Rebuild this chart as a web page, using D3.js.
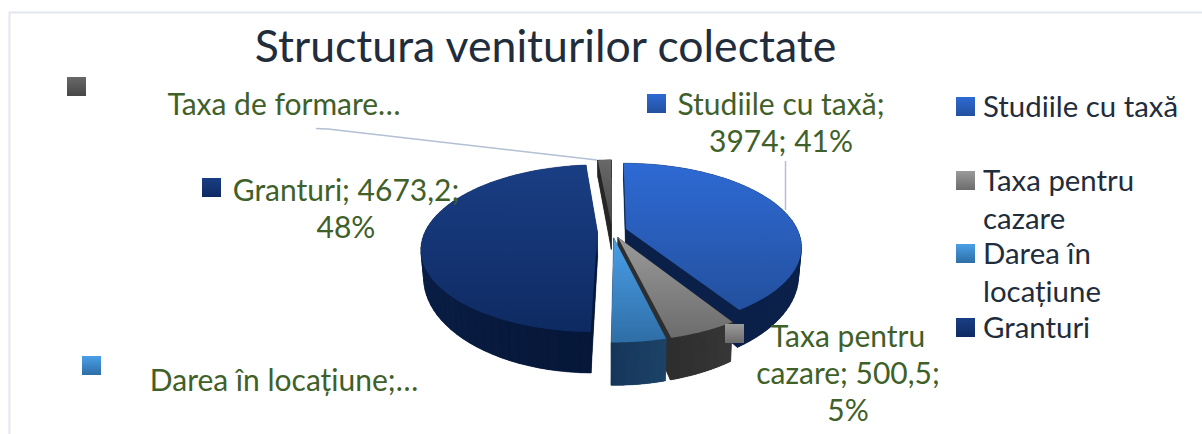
<!DOCTYPE html>
<html>
<head>
<meta charset="utf-8">
<script src="https://cdnjs.cloudflare.com/ajax/libs/d3/7.8.5/d3.min.js"></script>
<style>
    html, body { margin: 0; padding: 0; background: #fff; }
    svg { display: block; }
    text { font-family: Lato, "Open Sans", sans-serif; }
</style>
</head>
<body>
<svg id="chart"></svg>
<script>
const categories = ["Studiile cu taxă", "Taxa pentru cazare", "Darea în locațiune", "Granturi", "Taxa de formare"];
const values = [3974, 500.5, 390, 4673.2, 150];
const legendNames = [["Studiile cu taxă"], ["Taxa pentru", "cazare"], ["Darea în", "locațiune"], ["Granturi"]];
const dataLabels = [
    ["Studiile cu taxă;", "3974; 41%"],
    ["Taxa pentru", "cazare; 500,5;", "5%"],
    ["Darea în locațiune;…"],
    ["Granturi; 4673,2;", "48%"],
    ["Taxa de formare…"]
];

const width = 1202;
const height = 434;
const svg = d3.select("#chart").attr("width", width).attr("height", height);
const defs = svg.append("defs");

// top face gradient, then wall colour at the start and end of each slice
const topFrom = ["#2e6ad4", "#9a9a9a", "#4a9fe8", "#1a3e84", "#686868"];
const topTo = ["#23509e", "#6c6c6c", "#2e6ea6", "#0e2a62", "#474747"];
const sideFrom = ["#0c2552", "#383838", "#1d4468", "#061738", "#262626"];
const sideTo = ["#0b2048", "#2e2e2e", "#16365a", "#10295a", "#1c1c1c"];

categories.forEach((c, i) => {
    let g = defs.append("linearGradient").attr("id", "top" + i).attr("x1", 0).attr("y1", 0).attr("x2", 0).attr("y2", 1);
    g.append("stop").attr("offset", 0).attr("stop-color", topFrom[i]);
    g.append("stop").attr("offset", 1).attr("stop-color", topTo[i]);
});

// chart frame, only top and left edges show in the crop
svg.append("path")
    .attr("d", "M9.5,434V12.5H1202")
    .attr("fill", "none")
    .attr("stroke", "#e3e8f0")
    .attr("stroke-width", 2);

svg.append("text")
    .attr("x", 545.5).attr("y", 62)
    .attr("text-anchor", "middle")
    .attr("font-size", 44.6)
    .attr("fill", "#222d3c")
    .text("Structura veniturilor colectate");

// pie layout in the plane, then a perspective projection to the screen
const pie = d3.pie().sort(null).value(d => d);
const arcs = pie(values);

const cx = 612, cy = 231, R = 172, explode = 0.085;
const dist = 4.9, tilt = 80, depth = 26;

function project(X, Z) {
    const s = dist / (dist + Z);
    return [cx + R * X * s, cy - tilt * Z * s];
}
function bottom(X, Z) {
    const s = dist / (dist + Z);
    const p = project(X, Z);
    return [cx + (p[0] - cx) * 0.985, p[1] + depth * s * s];
}

const line = d3.line();

arcs.forEach(a => {
    const mid = (a.startAngle + a.endAngle) / 2;
    a.ox = explode * Math.sin(mid);
    a.oz = explode * Math.cos(mid);
    a.outline = d3.range(0, 61).map(k => {
        const t = a.startAngle + (a.endAngle - a.startAngle) * k / 60;
        return [a.ox + Math.sin(t), a.oz + Math.cos(t)];
    });
    a.apex = [a.ox, a.oz];
});

// back slices first
const drawOrder = [4, 0, 3, 1, 2];
const sliceG = svg.append("g");

drawOrder.forEach(i => {
    const a = arcs[i];
    const ring = [a.apex].concat(a.outline);
    const upper = ring.map(p => project(p[0], p[1]));
    const lower = ring.map(p => bottom(p[0], p[1]));
    const shade = d3.interpolateRgb(sideFrom[i], sideTo[i]);
    const g = sliceG.append("g");
    // bottom face and every wall, the top face covers the hidden ones
    g.append("path").attr("d", line(lower) + "Z").attr("fill", sideFrom[i]);
    d3.range(ring.length).forEach(k => {
        const n = (k + 1) % ring.length;
        const col = shade(k / ring.length);
        g.append("path")
            .attr("d", line([upper[k], upper[n], lower[n], lower[k]]) + "Z")
            .attr("fill", col)
            .attr("stroke", col)
            .attr("stroke-width", 0.5);
    });
    g.append("path").attr("d", line(upper) + "Z").attr("fill", "url(#top" + i + ")");
});

// leader lines
const leaderColor = "#b3bfd3";
svg.append("path").attr("d", "M316,128.5L328,129L597,160").attr("fill", "none").attr("stroke", leaderColor).attr("stroke-width", 1.5);
svg.append("path").attr("d", "M785.5,161V210").attr("fill", "none").attr("stroke", leaderColor).attr("stroke-width", 1.5);

// data labels with their colour keys
const labelColor = "#3f6029";
const labelSize = 30;
const labelPos = [
    {x: 781, y: 115, anchor: "middle"},
    {x: 848, y: 347, anchor: "middle"},
    {x: 284, y: 391, anchor: "middle"},
    {x: 346, y: 201, anchor: "middle"},
    {x: 284, y: 115, anchor: "middle"}
];
const keyPos = [[647, 94], [725, 324], [82, 356], [202, 178], [67, 77]];

dataLabels.forEach((rows, i) => {
    rows.forEach((r, k) => {
        svg.append("text")
            .attr("x", labelPos[i].x)
            .attr("y", labelPos[i].y + k * 37)
            .attr("text-anchor", labelPos[i].anchor)
            .attr("font-size", labelSize)
            .attr("fill", labelColor)
            .text(r);
    });
    svg.append("rect")
        .attr("x", keyPos[i][0]).attr("y", keyPos[i][1])
        .attr("width", 19).attr("height", 19)
        .attr("fill", "url(#top" + i + ")");
});

// legend
const legendY = [97, 171, 244, 318];
const legendText = "#222d3c";
legendNames.forEach((rows, i) => {
    svg.append("rect")
        .attr("x", 956).attr("y", legendY[i])
        .attr("width", 19).attr("height", 19)
        .attr("fill", "url(#top" + i + ")");
    rows.forEach((r, k) => {
        svg.append("text")
            .attr("x", 983)
            .attr("y", legendY[i] + 20 + k * 38)
            .attr("font-size", 29.4)
            .attr("fill", legendText)
            .text(r);
    });
});
</script>
</body>
</html>
